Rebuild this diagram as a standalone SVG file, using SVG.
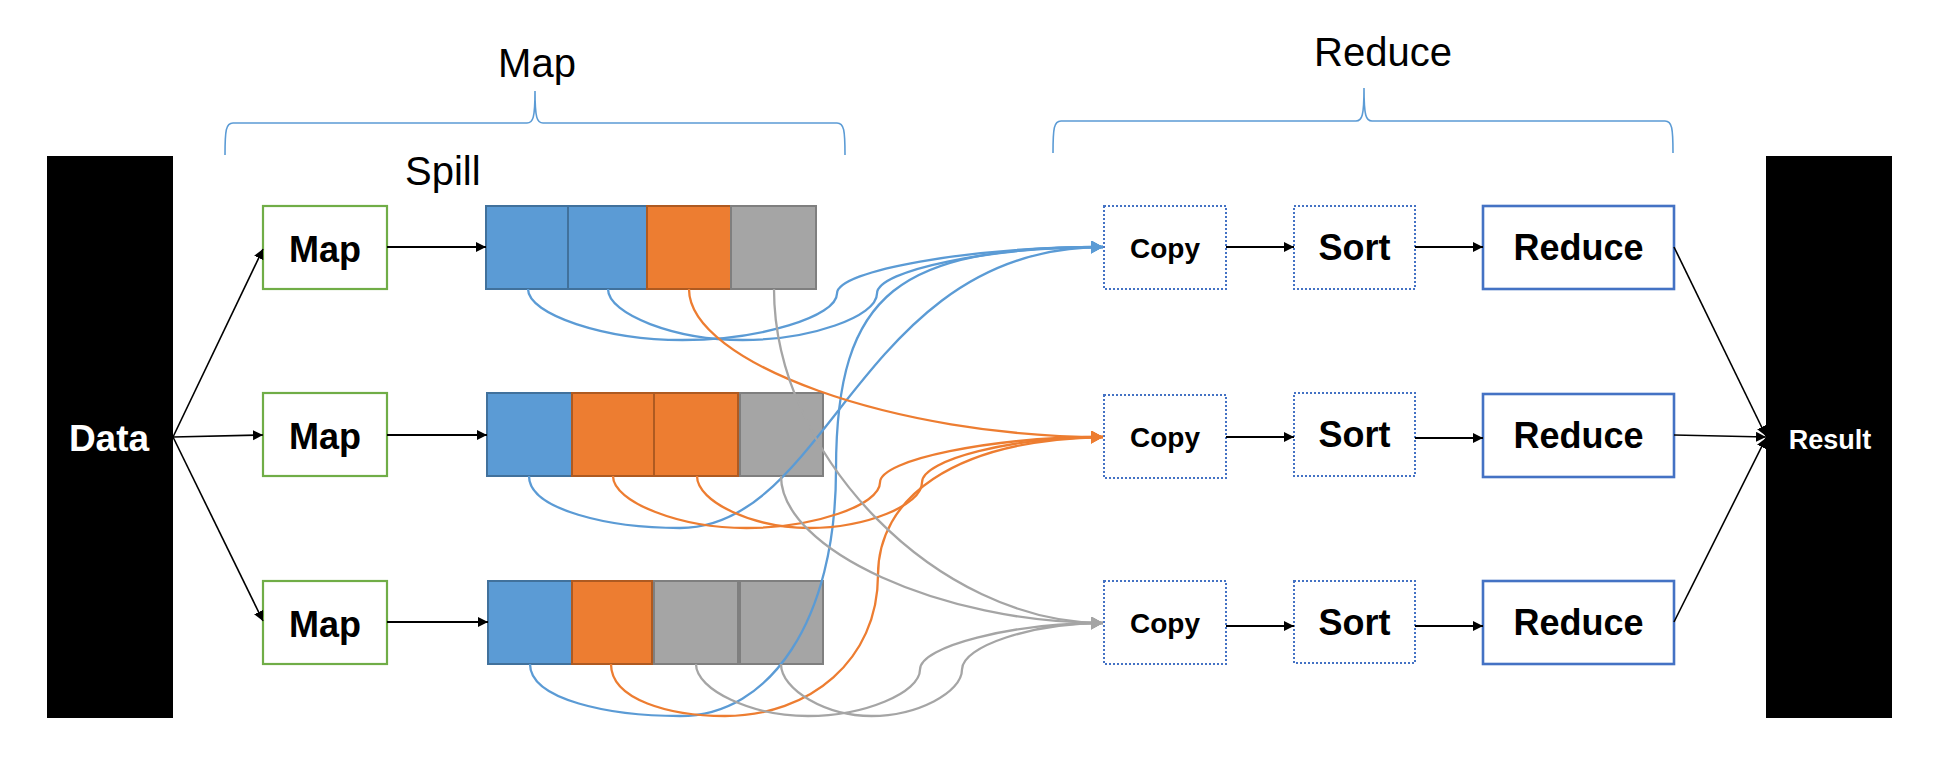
<svg xmlns="http://www.w3.org/2000/svg" width="1934" height="776" viewBox="0 0 1934 776">
<style>
text{font-family:"Liberation Sans",Arial,sans-serif;}
.title{font-size:40px;fill:#000;}
.lbl{font-size:36px;font-weight:bold;fill:#000;text-anchor:middle;}
.copy{font-size:28px;font-weight:bold;fill:#000;text-anchor:middle;}
.map{fill:#fff;stroke:#70ad47;stroke-width:2.2;}
.dot{fill:#fff;stroke:#4472c4;stroke-width:2;stroke-dasharray:2 2;}
.red{fill:#fff;stroke:#4472c4;stroke-width:2.6;}
.cb{fill:#5b9bd5;stroke:#41719c;stroke-width:2;}
.co{fill:#ed7d31;stroke:#ae5a21;stroke-width:2;}
.cg{fill:#a5a5a5;stroke:#7f7f7f;stroke-width:2;}
.brace{fill:none;stroke:#5b9bd5;stroke-width:1.6;}
.blk{stroke:#000;stroke-width:2.2;fill:none;marker-end:url(#ak);}
.thin{stroke:#000;stroke-width:1.6;fill:none;marker-end:url(#ak);}
.lb{stroke:#5b9bd5;stroke-width:2.3;fill:none;marker-end:url(#ab);}
.lo{stroke:#ed7d31;stroke-width:2.3;fill:none;marker-end:url(#ao);}
.lg{stroke:#a5a5a5;stroke-width:2.3;fill:none;marker-end:url(#ag);}
</style>
<defs>
<marker id="ak" markerUnits="userSpaceOnUse" markerWidth="11" markerHeight="11" refX="10" refY="5" orient="auto"><path d="M0,0 L10,5 L0,10 z" fill="#000"/></marker>
<marker id="ab" markerUnits="userSpaceOnUse" markerWidth="14" markerHeight="14" refX="12" refY="6.5" orient="auto"><path d="M0,0 L12,6.5 L0,13 z" fill="#5b9bd5"/></marker>
<marker id="ao" markerUnits="userSpaceOnUse" markerWidth="14" markerHeight="14" refX="12" refY="6.5" orient="auto"><path d="M0,0 L12,6.5 L0,13 z" fill="#ed7d31"/></marker>
<marker id="ag" markerUnits="userSpaceOnUse" markerWidth="14" markerHeight="14" refX="12" refY="6.5" orient="auto"><path d="M0,0 L12,6.5 L0,13 z" fill="#a5a5a5"/></marker>
</defs>
<rect width="1934" height="776" fill="#fff"/>

<g id="map-phase">
<text class="title" x="537" y="77" text-anchor="middle">Map</text>
<path class="brace" d="M225,155 C225,130 226,123 233,123 L527,123 C533,123 535,118 535,91 C535,118 537,123 543,123 L837,123 C844,123 845,130 845,155"/>
</g>
<g id="reduce-phase">
<text class="title" x="1383" y="66" text-anchor="middle">Reduce</text>
<path class="brace" d="M1053,153 C1053,128 1054,121 1061,121 L1356,121 C1362,121 1364,116 1364,88 C1364,116 1366,121 1372,121 L1665,121 C1672,121 1673,128 1673,153"/>
</g>
<g id="spill-label"><text class="title" x="405" y="185">Spill</text></g>

<g id="data">
<rect x="47" y="156" width="126" height="562" fill="#000"/>
<text x="109" y="451" font-size="37" font-weight="bold" fill="#fff" text-anchor="middle">Data</text>
</g>
<g id="result">
<rect x="1766" y="156" width="126" height="562" fill="#000"/>
<text x="1830" y="449" font-size="27" font-weight="bold" fill="#fff" text-anchor="middle">Result</text>
</g>

<g id="map1"><rect class="map" x="263" y="206" width="124" height="83"/><text class="lbl" x="325" y="262">Map</text></g>
<g id="map2"><rect class="map" x="263" y="393" width="124" height="83"/><text class="lbl" x="325" y="449">Map</text></g>
<g id="map3"><rect class="map" x="263" y="581" width="124" height="83"/><text class="lbl" x="325" y="637">Map</text></g>

<g id="spill1">
<rect class="cb" x="486" y="206" width="82" height="83"/>
<rect class="cb" x="568" y="206" width="79" height="83"/>
<rect class="co" x="647" y="206" width="84" height="83"/>
<rect class="cg" x="731" y="206" width="85" height="83"/>
</g>
<g id="spill2">
<rect class="cb" x="487" y="393" width="85" height="83"/>
<rect class="co" x="572" y="393" width="82" height="83"/>
<rect class="co" x="654" y="393" width="84" height="83"/>
<rect class="cg" x="740" y="393" width="83" height="83"/>
</g>
<g id="spill3">
<rect class="cb" x="488" y="581" width="84" height="83"/>
<rect class="co" x="572" y="581" width="80" height="83"/>
<rect class="cg" x="654" y="581" width="84" height="83"/>
<rect class="cg" x="740" y="581" width="83" height="83"/>
</g>

<g id="copy1"><rect class="dot" x="1104" y="206" width="122" height="83"/><text class="copy" x="1165" y="258">Copy</text></g>
<g id="copy2"><rect class="dot" x="1104" y="395" width="122" height="83"/><text class="copy" x="1165" y="447">Copy</text></g>
<g id="copy3"><rect class="dot" x="1104" y="581" width="122" height="83"/><text class="copy" x="1165" y="633">Copy</text></g>
<g id="sort1"><rect class="dot" x="1294" y="206" width="121" height="83"/><text class="lbl" x="1354.5" y="260">Sort</text></g>
<g id="sort2"><rect class="dot" x="1294" y="393" width="121" height="83"/><text class="lbl" x="1354.5" y="447">Sort</text></g>
<g id="sort3"><rect class="dot" x="1294" y="581" width="121" height="82"/><text class="lbl" x="1354.5" y="635">Sort</text></g>
<g id="reduce1"><rect class="red" x="1483" y="206" width="191" height="83"/><text class="lbl" x="1578.5" y="260">Reduce</text></g>
<g id="reduce2"><rect class="red" x="1483" y="394" width="191" height="83"/><text class="lbl" x="1578.5" y="448">Reduce</text></g>
<g id="reduce3"><rect class="red" x="1483" y="581" width="191" height="83"/><text class="lbl" x="1578.5" y="635">Reduce</text></g>

<g id="connectors">
<path class="thin" d="M173,437 L263,249"/>
<path class="thin" d="M173,437 L263,435"/>
<path class="thin" d="M173,437 L263,621"/>
<path class="blk" d="M387,247 L486,247"/>
<path class="blk" d="M387,435 L487,435"/>
<path class="blk" d="M387,622 L488,622"/>
<path class="blk" d="M1226,247 L1294,247"/>
<path class="blk" d="M1415,247 L1483,247"/>
<path class="blk" d="M1226,437 L1294,437"/>
<path class="blk" d="M1415,438 L1483,438"/>
<path class="blk" d="M1226,626 L1294,626"/>
<path class="blk" d="M1415,626 L1483,626"/>
<path class="thin" d="M1674,247 L1766,436"/>
<path class="thin" d="M1674,435 L1766,437"/>
<path class="thin" d="M1674,622 L1766,438"/>

<path class="lb" d="M528,289 C528,314.5 605.25,340 682.5,340 C759.75,340 837,316.75 837,293.5 C837,270.25 970,247 1103,247"/>
<path class="lb" d="M608,289 C608,314.5 675.5,340 742.5,340 C810,340 877,316.75 877,293.5 C877,270.25 990,247 1103,247"/>
<path class="lb" d="M529,476 C529,510 610,528 680,528 C830,528 860,247 1103,247"/>
<path class="lb" d="M530,664 C530,700 610,716 680,716 C770,716 836,620 836,470 C836,290 900,247 1103,247"/>

<path class="lo" d="M689,289 C689,363 896,437 1103,437"/>
<path class="lo" d="M613,476 C613,502 679.75,528 746.5,528 C813.25,528 880,505.25 880,482.5 C880,459.75 991.5,437 1103,437"/>
<path class="lo" d="M697,476 C697,502 753.25,528 809.5,528 C865.75,528 922,505.25 922,482.5 C922,459.75 1012.5,437 1103,437"/>
<path class="lo" d="M611,664 C611,700 670,716 725,716 C810,716 878,660 878,575 C878,500 950,440 1103,437"/>

<path class="lg" d="M774,289 C774,456 938,623 1103,623"/>
<path class="lg" d="M781,476 C781,550 942,623 1103,623"/>
<path class="lg" d="M696,664 C696,690 752,716 808,716 C864,716 920,692.75 920,669.5 C920,646.25 1011.5,623 1103,623"/>
<path class="lg" d="M781,664 C781,690 826.25,716 871.5,716 C916.75,716 962,692.75 962,669.5 C962,646.25 1032.5,623 1103,623"/>
</g>
</svg>
